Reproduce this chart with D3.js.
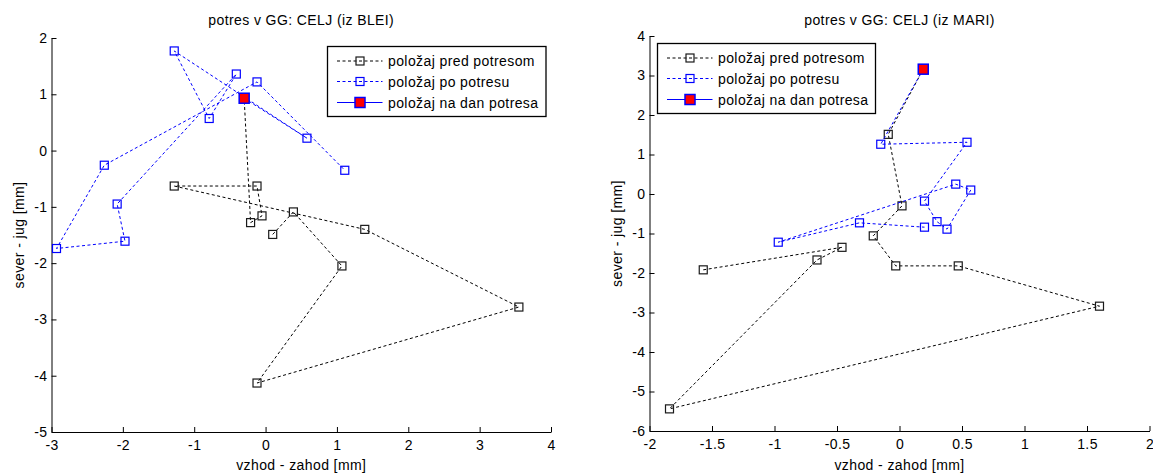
<!DOCTYPE html>
<html>
<head>
<meta charset="utf-8">
<script src="https://cdn.jsdelivr.net/npm/d3@7"></script>
<style>
  html, body { margin: 0; padding: 0; background: #fff; }
  svg { display: block; }
  text { font-family: "Liberation Sans", Arial, sans-serif; font-size: 14px; letter-spacing: 0.4px; fill: #000; }
</style>
</head>
<body>
<svg id="chart" width="1153" height="473"></svg>
<script>
// ---------- data: left panel (iz BLEI) ----------
const titleL = "potres v GG: CELJ (iz BLEI)";
const predXL = [0.10, 0.39, 1.07, -0.12, 3.55, 1.39, -1.28, -0.12, -0.05, -0.21];
const predYL = [-1.49, -1.09, -2.05, -4.13, -2.78, -1.40, -0.63, -0.63, -1.16, -1.28];
const poXL = [0.58, -1.28, -0.79, -0.41, -2.08, -1.97, -2.93, -2.26, -0.12, 1.11];
const poYL = [0.22, 1.77, 0.57, 1.36, -0.95, -1.61, -1.74, -0.26, 1.22, -0.35];
const danXL = [-0.30];
const danYL = [0.93];
const xTicksL = [-3, -2, -1, 0, 1, 2, 3, 4];
const yTicksL = [-5, -4, -3, -2, -1, 0, 1, 2];

// ---------- data: right panel (iz MARI) ----------
const titleR = "potres v GG: CELJ (iz MARI)";
const predXR = [-1.57, -0.46, -0.66, -1.84, 1.60, 0.47, -0.03, -0.21, 0.02, -0.09];
const predYR = [-1.92, -1.35, -1.67, -5.44, -2.84, -1.82, -1.82, -1.06, -0.30, 1.51];
const poXR = [-0.15, 0.54, 0.20, 0.30, 0.38, 0.57, 0.45, -0.97, -0.32, 0.20];
const poYR = [1.26, 1.31, -0.18, -0.70, -0.89, 0.10, 0.25, -1.22, -0.73, -0.84];
const danXR = [0.19];
const danYR = [3.16];
const xTicksR = [-2, -1.5, -1, -0.5, 0, 0.5, 1, 1.5, 2];
const yTicksR = [-6, -5, -4, -3, -2, -1, 0, 1, 2, 3, 4];

const legendLabels = ["položaj pred potresom", "položaj po potresu", "položaj na dan potresa"];
const xLabel = "vzhod - zahod [mm]";
const yLabel = "sever - jug [mm]";

const svg = d3.select("#chart");

function fmt(v) { return String(v).replace("\u2212", "-"); }

function drawPanel(o) {
  const x = d3.scaleLinear().domain(d3.extent(o.xTicks)).range([o.left, o.right]);
  const y = d3.scaleLinear().domain(d3.extent(o.yTicks)).range([o.bottom, o.top]);
  const g = svg.append("g");

  // axes (inward ticks, no box)
  const ax = g.append("g").attr("transform", `translate(0,${o.bottom})`)
    .call(d3.axisBottom(x).tickValues(o.xTicks).tickFormat(fmt).tickSizeInner(-5).tickSizeOuter(0).tickPadding(8));
  const ay = g.append("g").attr("transform", `translate(${o.left},0)`)
    .call(d3.axisLeft(y).tickValues(o.yTicks).tickFormat(fmt).tickSizeInner(-5).tickSizeOuter(0).tickPadding(4));
  [ax, ay].forEach(a => {
    a.selectAll("path.domain").attr("stroke", "#000").attr("stroke-width", 1);
    a.selectAll(".tick line").attr("stroke", "#000");
    a.selectAll("text").attr("font-size", null).attr("font-family", null).attr("fill", "#000");
  });

  // title and axis labels
  g.append("text").attr("x", (o.left + o.right) / 2).attr("y", 25)
    .attr("text-anchor", "middle").text(o.title);
  g.append("text").attr("x", (o.left + o.right) / 2).attr("y", 470)
    .attr("text-anchor", "middle").text(xLabel);
  g.append("text").attr("transform", `translate(${o.left - 28},${(o.top + o.bottom) / 2}) rotate(-90)`)
    .attr("text-anchor", "middle").text(yLabel);

  const line = d3.line().x(d => x(d[0])).y(d => y(d[1]));
  const pred = o.predX.map((v, i) => [v, o.predY[i]]);
  const po = o.poX.map((v, i) => [v, o.poY[i]]);
  const dan = o.danX.map((v, i) => [v, o.danY[i]]);

  // before quake (black), ends at the day of the quake
  g.append("path").datum(pred.concat(dan)).attr("d", line)
    .attr("fill", "none").attr("stroke", "#000").attr("stroke-width", 1).attr("stroke-dasharray", "3,2.5");
  g.selectAll(".mpred").data(pred).join("rect")
    .attr("x", d => x(d[0]) - 4).attr("y", d => y(d[1]) - 4).attr("width", 8).attr("height", 8)
    .attr("fill", "none").attr("stroke", "#1a1a1a").attr("stroke-width", 1.2);

  // after quake (blue), starts at the day of the quake
  g.append("path").datum(dan.concat(po)).attr("d", line)
    .attr("fill", "none").attr("stroke", "#0000ff").attr("stroke-width", 1).attr("stroke-dasharray", "3,2.5");
  g.selectAll(".mpo").data(po).join("rect")
    .attr("x", d => x(d[0]) - 4).attr("y", d => y(d[1]) - 4).attr("width", 8).attr("height", 8)
    .attr("fill", "none").attr("stroke", "#0000ff").attr("stroke-width", 1.2);

  // day of quake
  g.selectAll(".mdan").data(dan).join("rect")
    .attr("x", d => x(d[0]) - 5).attr("y", d => y(d[1]) - 5).attr("width", 10).attr("height", 10)
    .attr("fill", "#ff0000").attr("stroke", "#0000ff").attr("stroke-width", 1.5);

  // legend
  const L = o.legend;
  const lg = g.append("g").attr("transform", `translate(${L.x},${L.y})`);
  lg.append("rect").attr("x", 0).attr("y", 0).attr("width", L.w).attr("height", 70)
    .attr("fill", "#fff").attr("stroke", "#000").attr("stroke-width", 1.3);
  const rows = [14.5, 35, 56];
  const styles = [
    { stroke: "#000", dash: "3,2.5", mfill: "none", mstroke: "#1a1a1a", ms: 8 },
    { stroke: "#0000ff", dash: "3,2.5", mfill: "none", mstroke: "#0000ff", ms: 8 },
    { stroke: "#0000ff", dash: null, mfill: "#ff0000", mstroke: "#0000ff", ms: 10 }
  ];
  rows.forEach((ry, i) => {
    const s = styles[i];
    lg.append("line").attr("x1", 9.5).attr("x2", 55).attr("y1", ry).attr("y2", ry)
      .attr("stroke", s.stroke).attr("stroke-width", 1).attr("stroke-dasharray", s.dash);
    lg.append("rect").attr("x", 32.5 - s.ms / 2).attr("y", ry - s.ms / 2).attr("width", s.ms).attr("height", s.ms)
      .attr("fill", s.mfill).attr("stroke", s.mstroke).attr("stroke-width", i === 2 ? 1.5 : 1.2);
    lg.append("text").attr("x", 60.5).attr("y", ry + 5).text(legendLabels[i]);
  });
}

drawPanel({
  title: titleL, predX: predXL, predY: predYL, poX: poXL, poY: poYL, danX: danXL, danY: danYL,
  xTicks: xTicksL, yTicks: yTicksL,
  left: 51.5, right: 551, top: 38, bottom: 432,
  legend: { x: 327.5, y: 46.5, w: 218.5 }
});
drawPanel({
  title: titleR, predX: predXR, predY: predYR, poX: poXR, poY: poYR, danX: danXR, danY: danYR,
  xTicks: xTicksR, yTicks: yTicksR,
  left: 649.5, right: 1149.5, top: 36, bottom: 431,
  legend: { x: 657.5, y: 43.5, w: 218 }
});
</script>
</body>
</html>
